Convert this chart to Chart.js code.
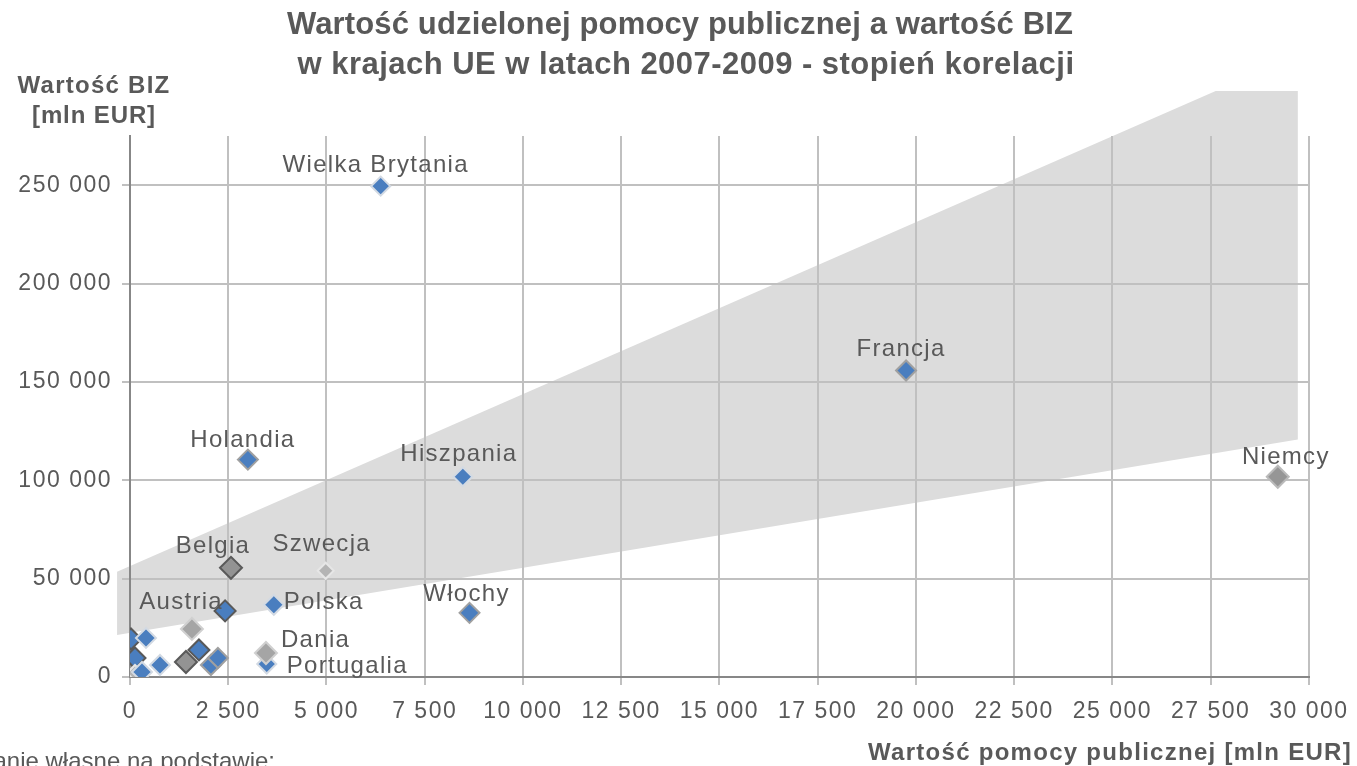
<!DOCTYPE html>
<html lang="pl">
<head>
<meta charset="utf-8">
<title>Wartość udzielonej pomocy publicznej a wartość BIZ</title>
<script src="https://cdn.jsdelivr.net/npm/chart.js@4.4.1/dist/chart.umd.min.js"></script>
<style>
  html, body { margin: 0; padding: 0; background: #fff; overflow: hidden; }
  canvas { display: block; }
</style>
</head>
<body>
<canvas id="bizChart" width="1357" height="766"></canvas>
<script>
// kraje (puste nazwy = punkty bez etykiety)
const countries = [
    "", "", "", "", "", "", "", "", "", "", "", "",
    "Wielka Brytania", "Francja", "Niemcy", "Hiszpania", "Holandia", "Belgia",
    "Szwecja", "Austria", "Polska", "Włochy", "Portugalia", "Dania"
];
// wartość pomocy publicznej [mln EUR]
const aidValues = [
    25, 407, 1576, 1424, 1754, 2059, 2237, 763, 0, 127, 127, 305,
    6380, 19750, 29210, 8470, 3000, 2570, 4980, 2420, 3660, 8640, 3480, 3460
];
// wartość BIZ [mln EUR]
const fdiValues = [
    19350, 19860, 24440, 7640, 13750, 6110, 9670, 6110, 4580, 9670, 2040, 2550,
    249500, 155800, 101800, 101800, 110500, 55500, 54000, 33600, 36700, 32600, 6600, 12200
];
// rodzaj znacznika
const markerKinds = [
    "bd", "bm", "g", "gd", "bd", "bg", "bg", "bm", "gd", "bd", "gl", "bm",
    "b", "bg", "gn", "b", "bg", "gd", "gl", "bd", "bm", "bg", "b", "g"
];

const xTickValues = [0, 2500, 5000, 7500, 10000, 12500, 15000, 17500, 20000, 22500, 25000, 27500, 30000];
const xTickLabels = ["0", "2 500", "5 000", "7 500", "10 000", "12 500", "15 000",
    "17 500", "20 000", "22 500", "25 000", "27 500", "30 000"];
const yTickValues = [0, 50000, 100000, 150000, 200000, 250000];
const yTickLabels = ["0", "50 000", "100 000", "150 000", "200 000", "250 000"];

// obszar korelacji (wielokąt w jednostkach danych)
const bandUpperX = [-330, 27630, 29720];
const bandUpperY = [53460, 297860, 297860];
const bandLowerX = [29720, -330];
const bandLowerY = [120670, 21390];

const markerStyles = {
    b:  { fill: "#4a7ebf", border: "#d3dae3", width: 2, r: 9.5 },
    bm: { fill: "#4a7ebf", border: "#d3dae3", width: 2, r: 10 },
    bd: { fill: "#4a7ebf", border: "#595959", width: 2, r: 10.5 },
    bg: { fill: "#4a7ebf", border: "#a0a0a0", width: 2, r: 10 },
    g:  { fill: "#a5a5a5", border: "#d0d0d0", width: 2, r: 11 },
    gn: { fill: "#969696", border: "#bababa", width: 2, r: 11 },
    gd: { fill: "#939393", border: "#5a5a5a", width: 2, r: 11 },
    gl: { fill: "#b4b4b4", border: "#e6e6e6", width: 2, r: 8 }
};

const labelOffsets = {
    "Wielka Brytania": [-5, -21, "center"],
    "Francja": [-5, -21, "center"],
    "Niemcy": [8, -19, "center"],
    "Hiszpania": [-4, -22, "center"],
    "Holandia": [-5, -19, "center"],
    "Belgia": [-18, -21, "center"],
    "Szwecja": [-4, -26, "center"],
    "Austria": [-44, -9, "center"],
    "Polska": [10, -2, "left"],
    "Włochy": [-3, -18, "center"],
    "Dania": [15, -13, "left"],
    "Portugalia": [20, 2, "left"]
};

const TEXT = "#595959";
const FONT = "'Liberation Sans', Arial, sans-serif";

function fitText(ctx, text, x, y, width) {
    ctx.letterSpacing = "0px";
    const w = ctx.measureText(text).width;
    if (w > width) {
        ctx.fillText(text, x, y, width);
    } else {
        ctx.letterSpacing = ((width - w) / text.length) + "px";
        ctx.fillText(text, x, y);
    }
}

const bandPlugin = {
    id: "correlationBand",
    beforeDraw(chart) {
        const { ctx, scales: { x, y } } = chart;
        ctx.save();
        ctx.beginPath();
        bandUpperX.forEach((v, i) => {
            const px = x.getPixelForValue(v), py = y.getPixelForValue(bandUpperY[i]);
            if (i === 0) ctx.moveTo(px, py); else ctx.lineTo(px, py);
        });
        bandLowerX.forEach((v, i) => ctx.lineTo(x.getPixelForValue(v), y.getPixelForValue(bandLowerY[i])));
        ctx.closePath();
        ctx.fillStyle = "#dcdcdc";
        ctx.fill();
        ctx.restore();
        // odstępy między znakami dla etykiet osi
        ctx.letterSpacing = "1.5px";
    }
};

const labelsPlugin = {
    id: "countryLabels",
    afterDatasetsDraw(chart) {
        const ctx = chart.ctx;
        const meta = chart.getDatasetMeta(0);
        ctx.save();
        ctx.font = "24px " + FONT;
        ctx.letterSpacing = "1.3px";
        ctx.fillStyle = TEXT;
        ctx.textBaseline = "middle";
        countries.forEach((name, i) => {
            if (!name) return;
            const pt = meta.data[i];
            const [dx, dy, align] = labelOffsets[name];
            ctx.textAlign = align;
            ctx.fillText(name, pt.x + dx, pt.y + dy);
        });
        ctx.restore();
    }
};

const textsPlugin = {
    id: "chartTexts",
    afterDraw(chart) {
        const ctx = chart.ctx;
        ctx.save();
        ctx.fillStyle = TEXT;
        ctx.textBaseline = "alphabetic";

        ctx.textAlign = "center";
        ctx.font = "bold 31px " + FONT;
        fitText(ctx, "Wartość udzielonej pomocy publicznej a wartość BIZ", 680, 34, 786);
        fitText(ctx, "w krajach UE w latach 2007-2009 - stopień korelacji", 686, 74, 777);

        ctx.font = "bold 24px " + FONT;
        fitText(ctx, "Wartość BIZ", 94, 93, 153);
        fitText(ctx, "[mln EUR]", 94, 123, 124);

        ctx.textAlign = "right";
        fitText(ctx, "Wartość pomocy publicznej [mln EUR]", 1352, 760, 484);

        ctx.font = "24px " + FONT;
        ctx.letterSpacing = "0px";
        ctx.fillText("Opracowanie własne na podstawie:", 275, 769);
        ctx.restore();
    }
};

const points = aidValues.map((v, i) => ({ x: v, y: fdiValues[i] }));

const chart = new Chart(document.getElementById("bizChart"), {
    type: "scatter",
    data: {
        datasets: [{
            data: points,
            pointStyle: "rectRot",
            pointRadius: markerKinds.map(k => markerStyles[k].r),
            pointBackgroundColor: markerKinds.map(k => markerStyles[k].fill),
            pointBorderColor: markerKinds.map(k => markerStyles[k].border),
            pointBorderWidth: markerKinds.map(k => markerStyles[k].width)
        }]
    },
    options: {
        responsive: false,
        devicePixelRatio: 1,
        animation: false,
        events: [],
        layout: { padding: { top: 136, right: 47, bottom: 0, left: 0 } },
        plugins: {
            legend: { display: false },
            tooltip: { enabled: false }
        },
        scales: {
            x: {
                type: "linear",
                min: 0,
                max: 30000,
                bounds: "data",
                afterFit: scale => { scale.height = 89; },
                afterBuildTicks: scale => { scale.ticks = xTickValues.map(v => ({ value: v })); },
                grid: { color: "#c0c0c0", lineWidth: 2, tickLength: 8 },
                border: { color: "#878787", width: 2 },
                ticks: {
                    autoSkip: false,
                    maxRotation: 0,
                    padding: 13,
                    color: TEXT,
                    font: { family: FONT, size: 23 },
                    callback: (v, i) => xTickLabels[i]
                }
            },
            y: {
                type: "linear",
                min: 0,
                max: 275000,
                bounds: "data",
                afterFit: scale => { scale.width = 130; },
                afterBuildTicks: scale => { scale.ticks = yTickValues.map(v => ({ value: v })); },
                grid: { color: "#c0c0c0", lineWidth: 2, tickLength: 8 },
                border: { color: "#878787", width: 2 },
                ticks: {
                    autoSkip: false,
                    padding: 10,
                    color: TEXT,
                    font: { family: FONT, size: 23 },
                    callback: (v, i) => yTickLabels[i]
                }
            }
        }
    },
    plugins: [bandPlugin, labelsPlugin, textsPlugin]
});
</script>
</body>
</html>
